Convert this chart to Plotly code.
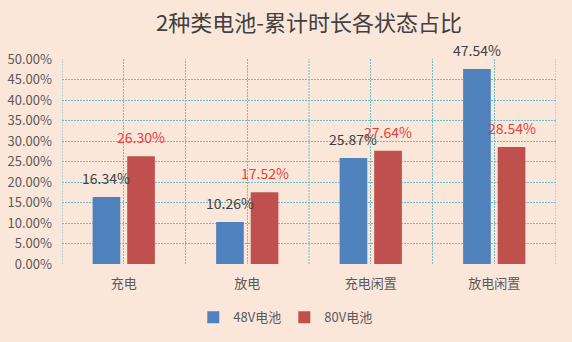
import plotly.graph_objects as go

categories = ["充电", "放电", "充电闲置", "放电闲置"]
series_names = ["48V电池", "80V电池"]
v48 = [16.34, 10.26, 25.87, 47.54]
v80 = [26.30, 17.52, 27.64, 28.54]
y_ticks = [0, 5, 10, 15, 20, 25, 30, 35, 40, 45, 50]

BLUE = "#4F81BD"
RED = "#C0504D"
BG = "#FBE7D9"
GRID = "#6CC0C6"
DASH = "2px,1px"
FONT = "Noto Sans CJK SC"

x = list(range(len(categories)))
bounds = [i - 0.5 for i in range(len(categories) + 1)]

fig = go.Figure()
fig.add_trace(go.Bar(x=x, y=v48, name=series_names[0], marker=dict(color=BLUE, line=dict(width=0))))
fig.add_trace(go.Bar(x=x, y=v80, name=series_names[1], marker=dict(color=RED, line=dict(width=0))))

# vertical gridlines at category boundaries
for b in bounds:
    fig.add_shape(type="line", xref="x", yref="paper", x0=b, x1=b, y0=0, y1=1,
                  line=dict(color=GRID, width=1, dash=DASH), layer="below")

bargap = 0.44
off = (1 - bargap) / 4
for i, (a, b) in enumerate(zip(v48, v80)):
    fig.add_annotation(x=i - off, y=a, text=f"{a:.2f}%", showarrow=False, yshift=19,
                       yanchor="middle", font=dict(family=FONT, size=14, color="#404040"))
    fig.add_annotation(x=i + off, y=b, text=f"{b:.2f}%", showarrow=False, yshift=19,
                       yanchor="middle", font=dict(family=FONT, size=14, color="#E2413C"))

fig.update_layout(
    width=572, height=342,
    margin=dict(l=62, r=16, t=59, b=78, autoexpand=False),
    paper_bgcolor=BG, plot_bgcolor=BG,
    barmode="group", bargap=bargap, bargroupgap=0.2,
    title=dict(text="2种类电池-累计时长各状态占比", x=0.5, xref="paper", xanchor="center",
               y=1 - 23 / 342, yref="container", yanchor="middle",
               font=dict(family=FONT, size=22, color="#404040")),
    font=dict(family=FONT, color="#595959"),
    legend=dict(orientation="h", x=0.45, xanchor="center", y=-0.26, yanchor="middle",
                font=dict(family=FONT, size=13, color="#595959"), bgcolor="rgba(0,0,0,0)",
                itemwidth=30, entrywidth=46, traceorder="normal"),
    showlegend=True,
)
fig.update_layout(xaxis=dict(
    range=[-0.5, 3.5], tickmode="array", tickvals=x, ticktext=categories,
    showgrid=True, gridcolor=GRID, griddash=DASH, gridwidth=1,
    showline=False, zeroline=False, ticks="", ticklabelstandoff=10, automargin=False,
    tickfont=dict(family=FONT, size=13, color="#595959"),
))
fig.update_yaxes(
    range=[0, 50], tickmode="array", tickvals=y_ticks,
    ticktext=[f"{t:.2f}%" for t in y_ticks],
    showgrid=True, gridcolor=GRID, griddash=DASH, gridwidth=1,
    zeroline=False, showline=False, ticks="", ticklabelstandoff=9, automargin=False,
    tickfont=dict(family=FONT, size=13, color="#595959"),
)
fig.write_html("out.html")
